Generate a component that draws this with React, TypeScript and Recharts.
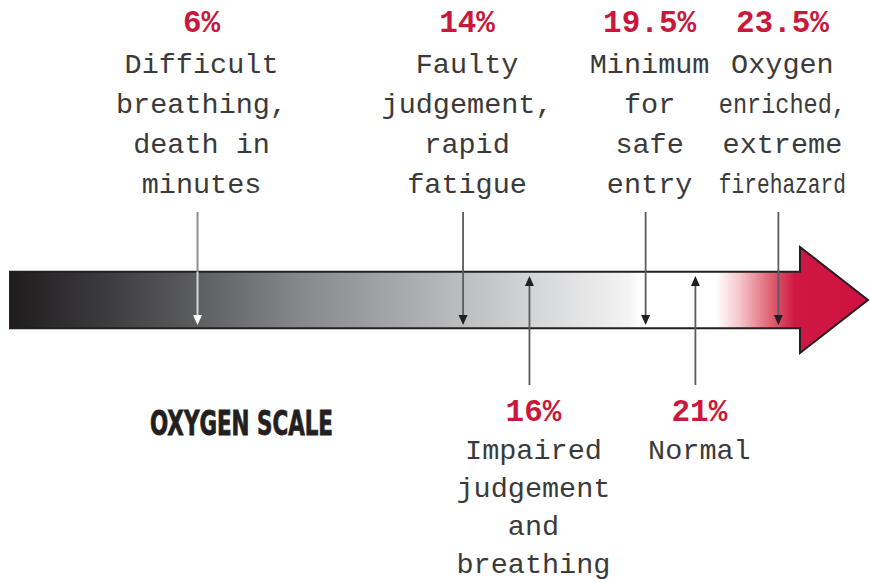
import { ComposedChart, ReferenceArea, Scatter, XAxis, YAxis } from "recharts";

// oxygen levels marked on the scale, left to right
const LEVELS = [6, 14, 16, 19.5, 21, 23.5];
const LEVEL_LABELS = ["6%", "14%", "16%", "19.5%", "21%", "23.5%"];
const SIDES = ["above", "above", "below", "above", "below", "above"];
const NOTES = [
  ["Difficult", "breathing,", "death in", "minutes"],
  ["Faulty", "judgement,", "rapid", "fatigue"],
  ["Impaired", "judgement", "and", "breathing"],
  ["Minimum", "for", "safe", "entry"],
  ["Normal"],
  ["Oxygen", "enriched,", "extreme", "firehazard"],
];
// extent of the drawn scale, in % oxygen
const SCALE_DOMAIN = [0.35, 26.2];
const TITLE = "OXYGEN SCALE";

const W = 871;
const H = 582;
const MONO = "'Courier New', 'Liberation Mono', 'DejaVu Sans Mono', monospace";
const INK = "#3a3a3a";
const RED = "#c9183c";
const TEXT_SIZE = 28.5;
const RIGHT_LIMIT = 846;

const points = LEVELS.map((v, i) => ({
  x: v,
  y: 0,
  label: LEVEL_LABELS[i],
  notes: NOTES[i],
  side: SIDES[i],
}));

function ScaleArrow(props: any) {
  const { x, y, width, height } = props;
  const headLen = 68;
  const headHalf = 53;
  const x0 = x;
  const tipX = x + width;
  const baseX = tipX - headLen;
  const top = y;
  const bottom = y + height;
  const cy = y + height / 2;
  const pts = [
    [x0, top],
    [baseX, top],
    [baseX, cy - headHalf],
    [tipX, cy],
    [baseX, cy + headHalf],
    [baseX, bottom],
    [x0, bottom],
  ]
    .map((p) => p.join(","))
    .join(" ");
  return (
    <g>
      <defs>
        <linearGradient id="o2grad" x1="0" y1="0" x2="1" y2="0">
          <stop offset="0" stopColor="#1f1c1d" />
          <stop offset="0.1" stopColor="#39383b" />
          <stop offset="0.22" stopColor="#5d5e61" />
          <stop offset="0.34" stopColor="#87888b" />
          <stop offset="0.52" stopColor="#babbbe" />
          <stop offset="0.61" stopColor="#d4d5d7" />
          <stop offset="0.72" stopColor="#f3f3f3" />
          <stop offset="0.735" stopColor="#ffffff" />
          <stop offset="0.823" stopColor="#ffffff" />
          <stop offset="0.85" stopColor="#f5c6cc" />
          <stop offset="0.885" stopColor="#e06676" />
          <stop offset="0.915" stopColor="#cf1843" />
          <stop offset="1" stopColor="#cf1040" />
        </linearGradient>
      </defs>
      <polygon points={pts} fill="url(#o2grad)" stroke="#231f20" strokeWidth={2} strokeLinejoin="miter" />
    </g>
  );
}

function Marker(props: any) {
  const { cx, cy, payload } = props;
  if (cx == null || cy == null) return null;
  const above = payload.side === "above";
  const onDark = payload.x < 10;
  const dir = above ? 1 : -1;
  const tip = above ? cy + 25 : cy - 24;
  const start = above ? cy - 88 : cy + 85;
  const headBase = tip - dir * 10;
  const lx = cx + 4;
  const pctY = above ? cy - 268 : cy + 121;
  const firstY = above ? cy - 227 : cy + 159;
  const step = above ? 40 : 38;
  const maxW = 2 * (RIGHT_LIMIT - lx);

  const head = `${cx - 4.5},${headBase} ${cx + 4.5},${headBase} ${cx},${tip}`;

  return (
    <g>
      {onDark ? (
        <>
          <line x1={cx} y1={start} x2={cx} y2={cy - 28} stroke="#8d8d8f" strokeWidth={2} />
          <line x1={cx} y1={cy - 28} x2={cx} y2={headBase} stroke="#d6d6d6" strokeWidth={2} />
          <polygon points={head} fill="#ffffff" />
        </>
      ) : (
        <>
          <line x1={cx} y1={start} x2={cx} y2={headBase} stroke="#5a5b5e" strokeWidth={1.8} />
          <polygon points={head} fill="#231f20" />
        </>
      )}
      <text
        x={lx}
        y={pctY}
        textAnchor="middle"
        fontFamily={MONO}
        fontWeight="bold"
        fontSize={31}
        fill={RED}
      >
        {payload.label}
      </text>
      {payload.notes.map((line: string, i: number) => {
        const natural = line.length * 0.6 * TEXT_SIZE;
        const sx = natural > maxW ? maxW / natural : 1;
        return (
          <text
            key={i}
            x={0}
            y={0}
            transform={`translate(${lx},${firstY + i * step}) scale(${sx},1)`}
            textAnchor="middle"
            fontFamily={MONO}
            fontSize={TEXT_SIZE}
            fill={INK}
          >
            {line}
          </text>
        );
      })}
    </g>
  );
}

export default function App() {
  return (
    <div style={{ position: "absolute", left: 0, top: 0, width: W, height: H, background: "#fff" }}>
      <ComposedChart
        width={W}
        height={H}
        data={points}
        margin={{ top: 18, right: 3, bottom: 0, left: 10 }}
      >
        <XAxis type="number" dataKey="x" domain={SCALE_DOMAIN} hide />
        <YAxis type="number" dataKey="y" domain={[-1, 1]} hide />
        <ReferenceArea
          x1={SCALE_DOMAIN[0]}
          x2={SCALE_DOMAIN[1]}
          y1={-0.1}
          y2={0.1}
          shape={(p: any) => <ScaleArrow {...p} />}
        />
        <Scatter
          data={points}
          dataKey="y"
          isAnimationActive={false}
          shape={(p: any) => <Marker {...p} />}
        />
      </ComposedChart>
      <svg
        width={W}
        height={H}
        style={{ position: "absolute", left: 0, top: 0, pointerEvents: "none" }}
      >
        <text
          x={150}
          y={435}
          fontFamily="Impact, 'Liberation Sans Narrow', 'DejaVu Sans Condensed', 'Roboto', sans-serif"
          fontWeight={900}
          fontSize={33}
          fill="#231f20"
          stroke="#231f20"
          strokeWidth={0.8}
          textLength={183}
          lengthAdjust="spacingAndGlyphs"
        >
          {TITLE}
        </text>
      </svg>
    </div>
  );
}
